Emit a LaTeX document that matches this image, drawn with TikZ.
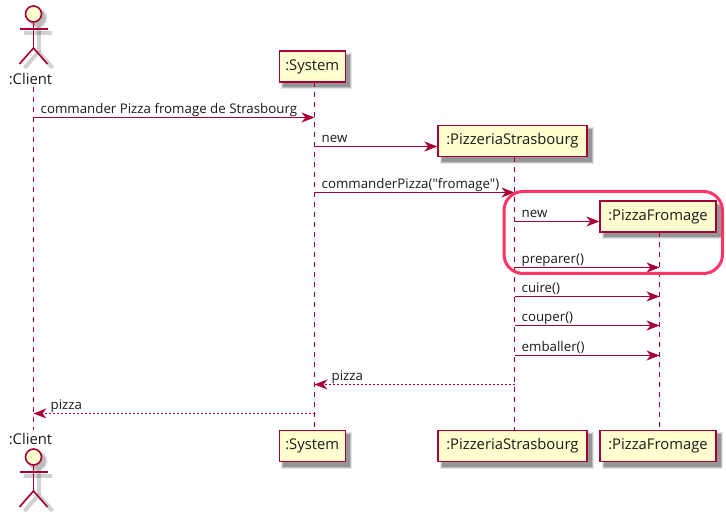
\documentclass[tikz,border=0pt]{standalone}
\usepackage{fontspec}
\newfontfamily\difont{Open Sans}
\usetikzlibrary{arrows.meta}
\definecolor{pborder}{HTML}{A80036}
\definecolor{pfill}{HTML}{FEFECE}
\definecolor{phigh}{HTML}{FF3366}
\definecolor{ptext}{HTML}{1A1A1A}
\tikzset{
  x=1pt,y=-1pt,
  partbox/.style={draw=pborder,fill=pfill,line width=1.2pt,inner sep=0pt,minimum height=31pt,text=ptext,font=\difont\fontsize{14.8}{16}\selectfont},
  lifeline/.style={draw=pborder,line width=0.8pt,dash pattern=on 5pt off 5pt},
  callmsg/.style={draw=pborder,line width=1pt,-{Stealth[length=13pt,width=10pt,inset=4pt]}},
  retmsg/.style={draw=pborder,line width=0.8pt,dash pattern=on 2pt off 2pt,-{Stealth[length=13pt,width=10pt,inset=4pt,line width=0pt,round]}},
  msglabel/.style={anchor=base west,inner sep=0pt,text=ptext,font=\difont\fontsize{13.3}{15}\selectfont},
  actorlabel/.style={inner sep=0pt,text=ptext,font=\difont\fontsize{14.8}{16}\selectfont},
  actorline/.style={draw=pborder,line width=1.6pt},
  highlight/.style={draw=phigh,line width=3pt,rounded corners=19pt},
}
\newcommand{\softshadow}[4]{%
  \fill[black,opacity=.10] (#1+2,#2+2) rectangle (#3+7,#4+7);
  \fill[black,opacity=.16] (#1+3,#2+3) rectangle (#3+6,#4+6);
  \fill[black,opacity=.22] (#1+4,#2+4) rectangle (#3+5,#4+5);
}
\newcommand{\actorfig}[2]{% x, y of head centre
  \begin{scope}[shift={(#1,#2)}]
    \fill[black,opacity=.12] (4,4) circle (10);
    \fill[black,opacity=.16] (4,4) circle (8.5);
    \draw[black,opacity=.18,line width=4pt] (-9.5,19) -- (18.5,19);
    \draw[black,opacity=.18,line width=4pt] (5,12) -- (5,38);
    \draw[black,opacity=.18,line width=4pt] (5,38) -- (-9,54) (5,38) -- (19,54);
    \draw[actorline] (0,8) -- (0,34);
    \draw[actorline] (-14,15) -- (14,15);
    \draw[actorline] (0,34) -- (-14,50) (0,34) -- (14,50);
    \draw[actorline,fill=pfill] (0,0) circle (8);
  \end{scope}
}
\begin{document}
\begin{tikzpicture}
\useasboundingbox (0,0) rectangle (726,518);
\fill[white] (0,0) rectangle (726,518);

% shadows
\softshadow{279}{51}{345}{82}
\softshadow{279}{430}{345}{462}
\softshadow{438}{125}{587}{157}
\softshadow{438}{430}{587}{462}
\softshadow{600}{201}{716}{232}
\softshadow{600}{430}{716}{462}

% labels of actors and boxes
\node[actorlabel] (clientT) at (30.5,79) {:Client};
\node[actorlabel] (clientB) at (30.5,439) {:Client};
\node[partbox,minimum width=66pt] (sysT) at (312.2,66.5) {:System};
\node[partbox,minimum width=66pt] (sysB) at (312.2,446) {:System};
\node[partbox,minimum width=149pt] (pizT) at (512.4,141) {:PizzeriaStrasbourg};
\node[partbox,minimum width=149pt] (pizB) at (512.4,446) {:PizzeriaStrasbourg};
\node[partbox,minimum width=116pt] (froT) at (658,216.5) {:PizzaFromage};
\node[partbox,minimum width=116pt] (froB) at (658,446) {:PizzaFromage};

% lifelines
\coordinate (lcT) at (33.5,87);
\coordinate (lcB) at (33.5,430);
\coordinate (lsT) at (314.5,82);
\coordinate (lsB) at (314.5,430);
\coordinate (lpT) at (514.5,157);
\coordinate (lpB) at (514.5,430);
\coordinate (lfT) at (659.5,232);
\coordinate (lfB) at (659.5,430);
\draw[lifeline] (lcT) -- (lcB);
\draw[lifeline] (lsT) -- (lsB);
\draw[lifeline] (lpT) -- (lpB);
\draw[lifeline] (lfT) -- (lfB);

% actors
\actorfig{33.5}{14}
\actorfig{33.5}{457}

% messages
\coordinate (m1a) at (33.5,117.5);  \coordinate (m1b) at (314.5,117.5);
\coordinate (m2a) at (314.5,146.5); \coordinate (m2b) at (pizT.west |- 0,146.5);
\coordinate (m3a) at (314.5,192.5); \coordinate (m3b) at (514.5,192.5);
\coordinate (m4a) at (514.5,221.5); \coordinate (m4b) at (froT.west |- 0,221.5);
\coordinate (m5a) at (514.5,267.5); \coordinate (m5b) at (659.5,267.5);
\coordinate (m6a) at (514.5,296.5); \coordinate (m6b) at (659.5,296.5);
\coordinate (m7a) at (514.5,325.5); \coordinate (m7b) at (659.5,325.5);
\coordinate (m8a) at (514.5,355.5); \coordinate (m8b) at (659.5,355.5);
\coordinate (m9a) at (514.5,384.5); \coordinate (m9b) at (314.5,384.5);
\coordinate (m10a) at (314.5,413.5); \coordinate (m10b) at (33.5,413.5);
\draw[callmsg] (m1a) -- (m1b);
\draw[callmsg] (m2a) -- (m2b);
\draw[callmsg] (m3a) -- (m3b);
\draw[callmsg] (m4a) -- (m4b);
\draw[callmsg] (m5a) -- (m5b);
\draw[callmsg] (m6a) -- (m6b);
\draw[callmsg] (m7a) -- (m7b);
\draw[callmsg] (m8a) -- (m8b);
\draw[retmsg] (m9a) -- (m9b);
\draw[retmsg] (m10a) -- (m10b);

\node[msglabel] (t1) at (40.5,113.5) {commander Pizza fromage de Strasbourg};
\node[msglabel] (t2) at (321.5,142.5) {new};
\node[msglabel] (t3) at (321.5,188.5) {commanderPizza("fromage")};
\node[msglabel] (t4) at (521.5,217.5) {new};
\node[msglabel] (t5) at (521.5,263.5) {preparer()};
\node[msglabel] (t6) at (521.5,292.5) {cuire()};
\node[msglabel] (t7) at (521.5,321.5) {couper()};
\node[msglabel] (t8) at (521.5,351.5) {emballer()};
\node[msglabel] (t9) at (331.5,380.5) {pizza};
\node[msglabel] (t10) at (50.5,409.5) {pizza};

% highlight
\draw[highlight] (504,191.5) rectangle (722.5,273.5);
\end{tikzpicture}
\end{document}
